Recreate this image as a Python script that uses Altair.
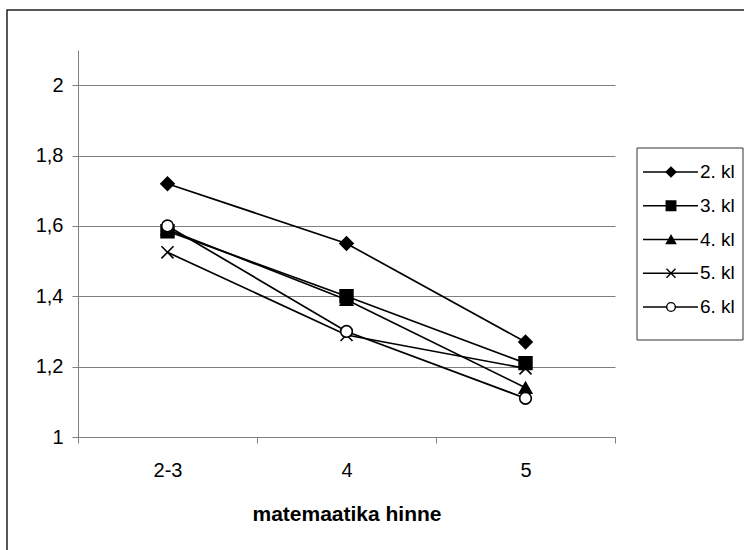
import altair as alt
import pandas as pd

grades = ["2-3", "4", "5"]
series = ["2. kl", "3. kl", "4. kl", "5. kl", "6. kl"]
v2 = [1.72, 1.55, 1.27]
v3 = [1.585, 1.40, 1.21]
v4 = [1.59, 1.39, 1.14]
v5 = [1.525, 1.29, 1.195]
v6 = [1.60, 1.30, 1.11]
all_vals = [v2, v3, v4, v5, v6]

y_ticks = [1.0, 1.2, 1.4, 1.6, 1.8, 2.0]

shapes = ["diamond", "square", "triangle-up", "M-1,-1L1,1M-1,1L1,-1", "circle"]
fills = ["black", "black", "black", "black", "white"]
sizes = [175, 135, 140, 140, 85]
leg_sizes = [95, 75, 80, 80, 50]

FONT = "Liberation Sans"

rows = []
for s, vals in zip(series, all_vals):
    for g, v in zip(grades, vals):
        rows.append({"series": s, "grade": g, "value": v})
df = pd.DataFrame(rows)
leg_df = pd.DataFrame({"series": series, "idx": list(range(len(series))), "label": series})

shape_scale = alt.Scale(domain=series, range=shapes)
fill_scale = alt.Scale(domain=series, range=fills)
x_axis = alt.Axis(tickBand="extent", labelAngle=0, title="matemaatika hinne",
                  labelFont=FONT, labelFontSize=20, labelColor="black",
                  titleFont=FONT, titleFontSize=21, titleFontWeight="bold",
                  titleColor="black", titleY=83, titleBaseline="alphabetic",
                  tickSize=6, labelPadding=17, domainColor="#808080",
                  tickColor="#808080", grid=False)
x_enc = alt.X("grade:N", sort=grades, scale=alt.Scale(paddingInner=0, paddingOuter=0),
              axis=x_axis)
y_axis = alt.Axis(values=y_ticks, title=None,
                  labelExpr="replace(format(datum.value, '.1~f'), '.', ',')",
                  labelFont=FONT, labelFontSize=20, labelColor="black",
                  tickSize=6, labelPadding=9, domainColor="#808080",
                  tickColor="#808080", gridColor="#808080", gridOpacity=1,
                  grid=True)
y_scale = alt.Scale(domain=[1.0, 2.1], nice=False, zero=False)
y_enc = alt.Y("value:Q", scale=y_scale, axis=y_axis)

lines = alt.Chart(df).mark_line(color="black", strokeWidth=1.7).encode(
    x=x_enc, y=y_enc, detail="series:N",
)
points = alt.Chart(df).mark_point(stroke="black", strokeWidth=1.6, opacity=1,
                                  fillOpacity=1).encode(
    x=x_enc, y=y_enc,
    shape=alt.Shape("series:N", scale=shape_scale, legend=None),
    fill=alt.Fill("series:N", scale=fill_scale, legend=None),
    size=alt.Size("series:N", scale=alt.Scale(domain=series, range=sizes), legend=None),
)
main = alt.layer(lines, points)

frame = alt.Chart(pd.DataFrame({"a": [0]})).mark_rect(
    fill="white", fillOpacity=0, stroke="#222222", strokeWidth=1.5).encode(
    x=alt.value(-71), x2=alt.value(800), y=alt.value(-40), y2=alt.value(650))

leg_y = alt.Y("idx:Q", scale=alt.Scale(domain=[0, 4], range=[122, 257]), axis=None)
leg_box = alt.Chart(pd.DataFrame({"a": [0]})).mark_rect(
    fill="white", stroke="#333333", strokeWidth=1).encode(
    x=alt.value(559), x2=alt.value(665), y=alt.value(98), y2=alt.value(290))
leg_rule = alt.Chart(leg_df).mark_rule(color="black", strokeWidth=1.6).encode(
    x=alt.value(565), x2=alt.value(620), y=leg_y)
leg_pt = alt.Chart(leg_df).mark_point(stroke="black", strokeWidth=1.4, opacity=1,
                                      fillOpacity=1).encode(
    x=alt.value(593), y=leg_y,
    shape=alt.Shape("series:N", scale=shape_scale, legend=None),
    fill=alt.Fill("series:N", scale=fill_scale, legend=None),
    size=alt.Size("series:N", scale=alt.Scale(domain=series, range=leg_sizes), legend=None),
)
leg_txt = alt.Chart(leg_df).mark_text(align="left", baseline="middle", font=FONT,
                                      fontSize=19, color="black").encode(
    x=alt.value(622), y=leg_y, text="label:N")
legend = alt.layer(leg_box, leg_rule, leg_pt, leg_txt)

chart = alt.layer(frame, main, legend).resolve_scale(
    y="independent", size="independent").properties(
    width=537, height=387,
    autosize=alt.AutoSizeParams(type="none"),
    padding={"left": 78, "top": 50, "right": 129, "bottom": 113},
).configure_view(stroke=None)

chart.save("out.html", embed_options={"renderer": "svg", "actions": False})
